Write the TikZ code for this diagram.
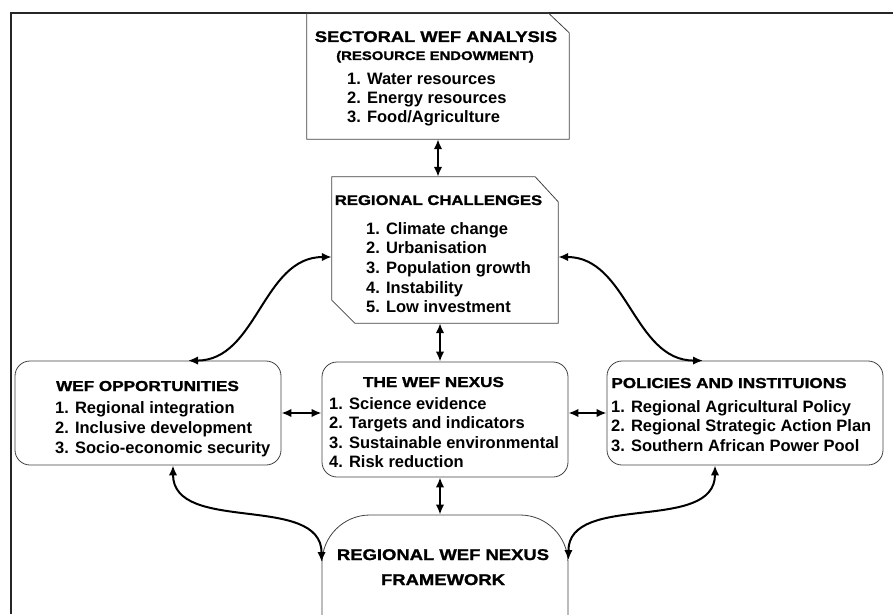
\documentclass[tikz,border=0pt]{standalone}
\usepackage{fontspec}
\setmainfont{Liberation Sans}
\newfontfamily\headfont[FakeStretch=1.19,FakeBold=1.4]{Liberation Sans}
\usetikzlibrary{arrows.meta,calc}

\tikzset{
  frame/.style={draw=black!75,line width=0.8pt},
  roundbox/.style={frame,rounded corners=15pt},
  shapebox/.style={inner sep=0pt},
  head/.style={anchor=base,inner sep=0pt,font=\headfont\bfseries\fontsize{14.4}{17}\selectfont},
  items/.style={anchor=base west,inner sep=0pt,font=\bfseries\fontsize{16.5}{19.5}\selectfont},
  link/.style={{Latex[length=10pt,width=8.5pt]}-{Latex[length=10pt,width=8.5pt]},line width=2pt}
}

\begin{document}
\begin{tikzpicture}[x=1pt,y=1pt]
	\useasboundingbox (0,0) rectangle (893,614);
	\clip (0,0) rectangle (893,614);
	\draw [line width=2pt,black!85] (11,0) -- (11,601) -- (893,601);

	%boites
	\node [shapebox,minimum width=262pt,minimum height=126pt] (sect) at (438,538) {};
	\draw [frame] (sect.north west) -- ([xshift=-21pt]sect.north east) -- ([yshift=-20pt]sect.north east)
		-- (sect.south east) -- (sect.south west) -- cycle;
	\node [shapebox,minimum width=226pt,minimum height=146pt] (chall) at (445,364) {};
	\draw [frame] (chall.north west) -- ([xshift=-23pt]chall.north east) -- ([yshift=-25pt]chall.north east)
		-- (chall.south east) -- ([xshift=23pt]chall.south west) -- ([yshift=23pt]chall.south west) -- cycle;
	\node [roundbox,minimum width=246pt,minimum height=115pt] (nexus) at (445,194.5) {};
	\node [roundbox,minimum width=266pt,minimum height=104pt] (opp) at (148,201) {};
	\node [roundbox,minimum width=276pt,minimum height=104pt] (pol) at (745,201) {};
	\node [frame,rounded corners=48pt,minimum width=246pt,minimum height=150pt] (fw) at (445,24) {};

	%textes
	\node [head,font=\headfont\bfseries\fontsize{15.4}{17}\selectfont] (sectHead) at (436,572) {SECTORAL WEF ANALYSIS};
	\node [head,font=\headfont\bfseries\fontsize{12.5}{15}\selectfont] (sectSub) at (435,554) {(RESOURCE ENDOWMENT)};
	\node [items,font=\bfseries\fontsize{16.5}{19}\selectfont] (sectList) at (347,529)
		{\begin{tabular}[t]{@{}l@{}}1. Water resources\\2. Energy resources\\3. Food/Agriculture\end{tabular}};

	\node [head,font=\headfont\bfseries\fontsize{14}{17}\selectfont] (challHead) at (438.5,409) {REGIONAL CHALLENGES};
	\node [items,font=\bfseries\fontsize{16.5}{19.7}\selectfont] (challList) at (366,380)
		{\begin{tabular}[t]{@{}l@{}}1. Climate change\\2. Urbanisation\\3. Population growth\\4. Instability\\5. Low investment\end{tabular}};

	\node [head] (oppHead) at (147.5,223) {WEF OPPORTUNITIES};
	\node [items,font=\bfseries\fontsize{16.5}{20}\selectfont] (oppList) at (55,201)
		{\begin{tabular}[t]{@{}l@{}}1. Regional integration\\2. Inclusive development\\3. Socio-economic security\end{tabular}};

	\node [head] (nexusHead) at (433.5,227) {THE WEF NEXUS};
	\node [items] (nexusList) at (329,205)
		{\begin{tabular}[t]{@{}l@{}}1. Science evidence\\2. Targets and indicators\\3. Sustainable environmental\\4. Risk reduction\end{tabular}};

	\node [head] (polHead) at (729,226) {POLICIES AND INSTITUIONS};
	\node [items] (polList) at (611,202)
		{\begin{tabular}[t]{@{}l@{}}1. Regional Agricultural Policy\\2. Regional Strategic Action Plan\\3. Southern African Power Pool\end{tabular}};

	\node [head,font=\headfont\bfseries\fontsize{15.5}{25}\selectfont] (fwText) at (443,54)
		{\begin{tabular}[t]{@{}c@{}}REGIONAL WEF NEXUS\\FRAMEWORK\end{tabular}};

	%fleches
	\draw [link] (sect.south) -- (sect.south |- chall.north);
	\draw [link] ([xshift=-5pt]chall.south) -- ([xshift=-5pt]chall.south |- nexus.north);
	\draw [link] ([xshift=-5pt]nexus.south) -- ([xshift=-5pt]nexus.south |- fw.north);
	\draw [link] (opp.east) -- (opp.east -| nexus.west);
	\draw [link] (pol.west -| nexus.east) -- (pol.west);

	\draw [link] ([yshift=-7pt]chall.west) to[out=180,in=0] ([xshift=40pt]opp.north);
	\draw [link] ([yshift=-7pt]chall.east) to[out=0,in=180] ([xshift=-42pt]pol.north);
	\draw [link] ([xshift=25pt]opp.south) to[out=-90,in=90] ([yshift=28pt]fw.west);
	\draw [link] ([xshift=-30pt]pol.south) to[out=-90,in=90] ([yshift=30pt]fw.east);
\end{tikzpicture}
\end{document}
